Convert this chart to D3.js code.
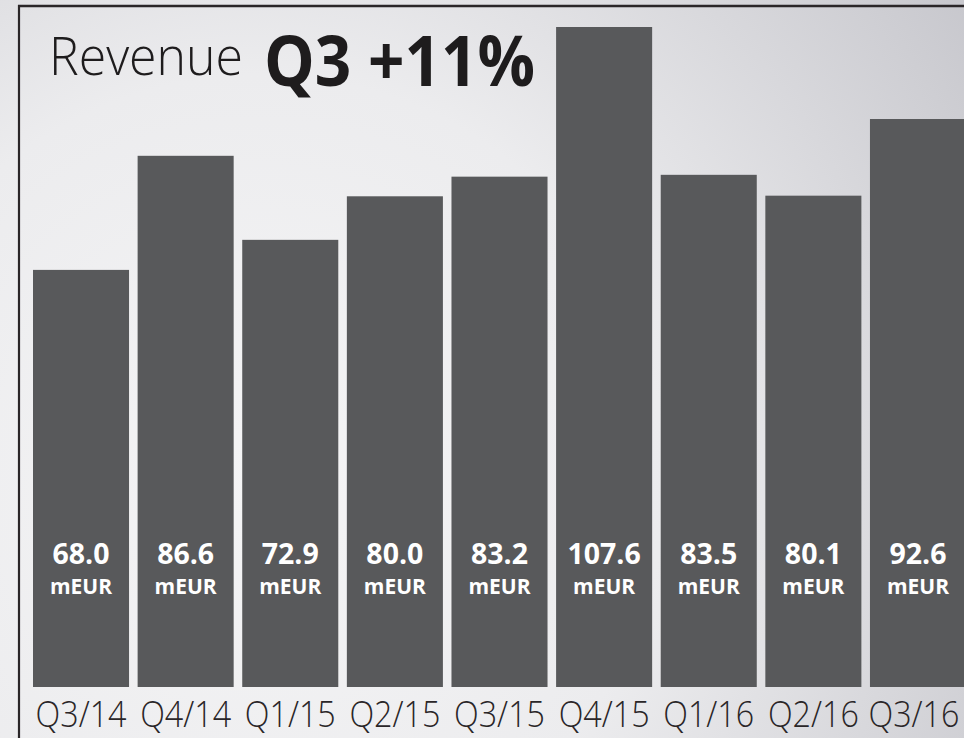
<!DOCTYPE html>
<html>
<head>
<meta charset="utf-8">
<script src="https://cdn.jsdelivr.net/npm/d3@7"></script>
<style>
  html, body { margin: 0; padding: 0; background: #e6e6e8; }
  svg { display: block; font-family: "Open Sans", sans-serif; }
</style>
</head>
<body>
<svg id="viz"></svg>
<script>
// chart data
const quarters = ["Q3/14", "Q4/14", "Q1/15", "Q2/15", "Q3/15", "Q4/15", "Q1/16", "Q2/16", "Q3/16"];
const revenue = [68.0, 86.6, 72.9, 80.0, 83.2, 107.6, 83.5, 80.1, 92.6];
const unitLabel = "mEUR";
const titleLight = "Revenue";
const titleBold = "Q3 +11%";

const W = 964, H = 738;
const svg = d3.select("#viz").attr("width", W).attr("height", H);

// background
const defs = svg.append("defs");
const grad = defs.append("radialGradient")
  .attr("id", "bg")
  .attr("gradientUnits", "userSpaceOnUse")
  .attr("cx", 260).attr("cy", 480).attr("r", 900);
grad.append("stop").attr("offset", "0%").attr("stop-color", "#f5f5f6");
grad.append("stop").attr("offset", "45%").attr("stop-color", "#ececee");
grad.append("stop").attr("offset", "100%").attr("stop-color", "#c4c4ca");
svg.append("rect").attr("width", W).attr("height", H).attr("fill", "url(#bg)");

// frame lines (top + left)
svg.append("line").attr("x1", 18).attr("x2", W).attr("y1", 6).attr("y2", 6)
  .attr("stroke", "#2a2628").attr("stroke-width", 2.4);
svg.append("line").attr("x1", 19).attr("x2", 19).attr("y1", 5).attr("y2", H)
  .attr("stroke", "#2a2628").attr("stroke-width", 2.2);

// scales
const x = d3.scaleBand()
  .domain(quarters)
  .range([33, 966])
  .paddingInner(0.082)
  .paddingOuter(0);

const y = d3.scaleLinear()
  .domain([0, d3.max(revenue)])
  .range([687, 27]);

const data = quarters.map((q, i) => ({ q, v: revenue[i] }));

// bars
svg.append("g").selectAll("rect")
  .data(data)
  .join("rect")
  .attr("x", d => x(d.q))
  .attr("y", d => y(d.v))
  .attr("width", x.bandwidth())
  .attr("height", d => y(0) - y(d.v))
  .attr("fill", "#58595b");

// value labels
const lbl = svg.append("g").attr("fill", "#ffffff").attr("text-anchor", "middle");
lbl.selectAll("text.val")
  .data(data)
  .join("text")
  .attr("class", "val")
  .attr("x", d => x(d.q) + x.bandwidth() / 2)
  .attr("y", 564)
  .attr("font-size", 28.5)
  .attr("font-weight", 700)
  .text(d => d.v.toFixed(1));
lbl.selectAll("text.unit")
  .data(data)
  .join("text")
  .attr("class", "unit")
  .attr("x", d => x(d.q) + x.bandwidth() / 2)
  .attr("y", 594)
  .attr("font-size", 21)
  .attr("font-weight", 700)
  .text(unitLabel);

// category axis labels (narrow face: squeeze horizontally to the reference width)
const last = quarters[quarters.length - 1];
const xAxis = d3.axisBottom(x).tickSize(0).tickPadding(0);
const gx = svg.append("g").attr("transform", "translate(0,727)").call(xAxis);
gx.select(".domain").remove();
gx.selectAll("text")
  .attr("dy", 0)
  .attr("y", 0)
  .attr("x", 0)
  .attr("font-size", 37)
  .attr("font-weight", 300)
  .attr("font-family", "'Open Sans', sans-serif")
  .attr("fill", "#2a2628")
  .each(function(d) {
    const s = 91 / this.getComputedTextLength();
    const dx = d === last ? -4 : 0;
    d3.select(this).attr("transform", `translate(${dx},0) scale(${s},1)`);
  });

// title
const title = svg.append("g").attr("fill", "#1e1c1d");
title.append("text")
  .attr("x", 49).attr("y", 75)
  .attr("font-size", 54)
  .attr("font-weight", 300)
  .attr("textLength", 194)
  .attr("lengthAdjust", "spacingAndGlyphs")
  .text(titleLight);
title.append("text")
  .attr("x", 264).attr("y", 86)
  .attr("font-size", 70)
  .attr("font-weight", 700)
  .attr("textLength", 271)
  .attr("lengthAdjust", "spacingAndGlyphs")
  .text(titleBold);
</script>
</body>
</html>
